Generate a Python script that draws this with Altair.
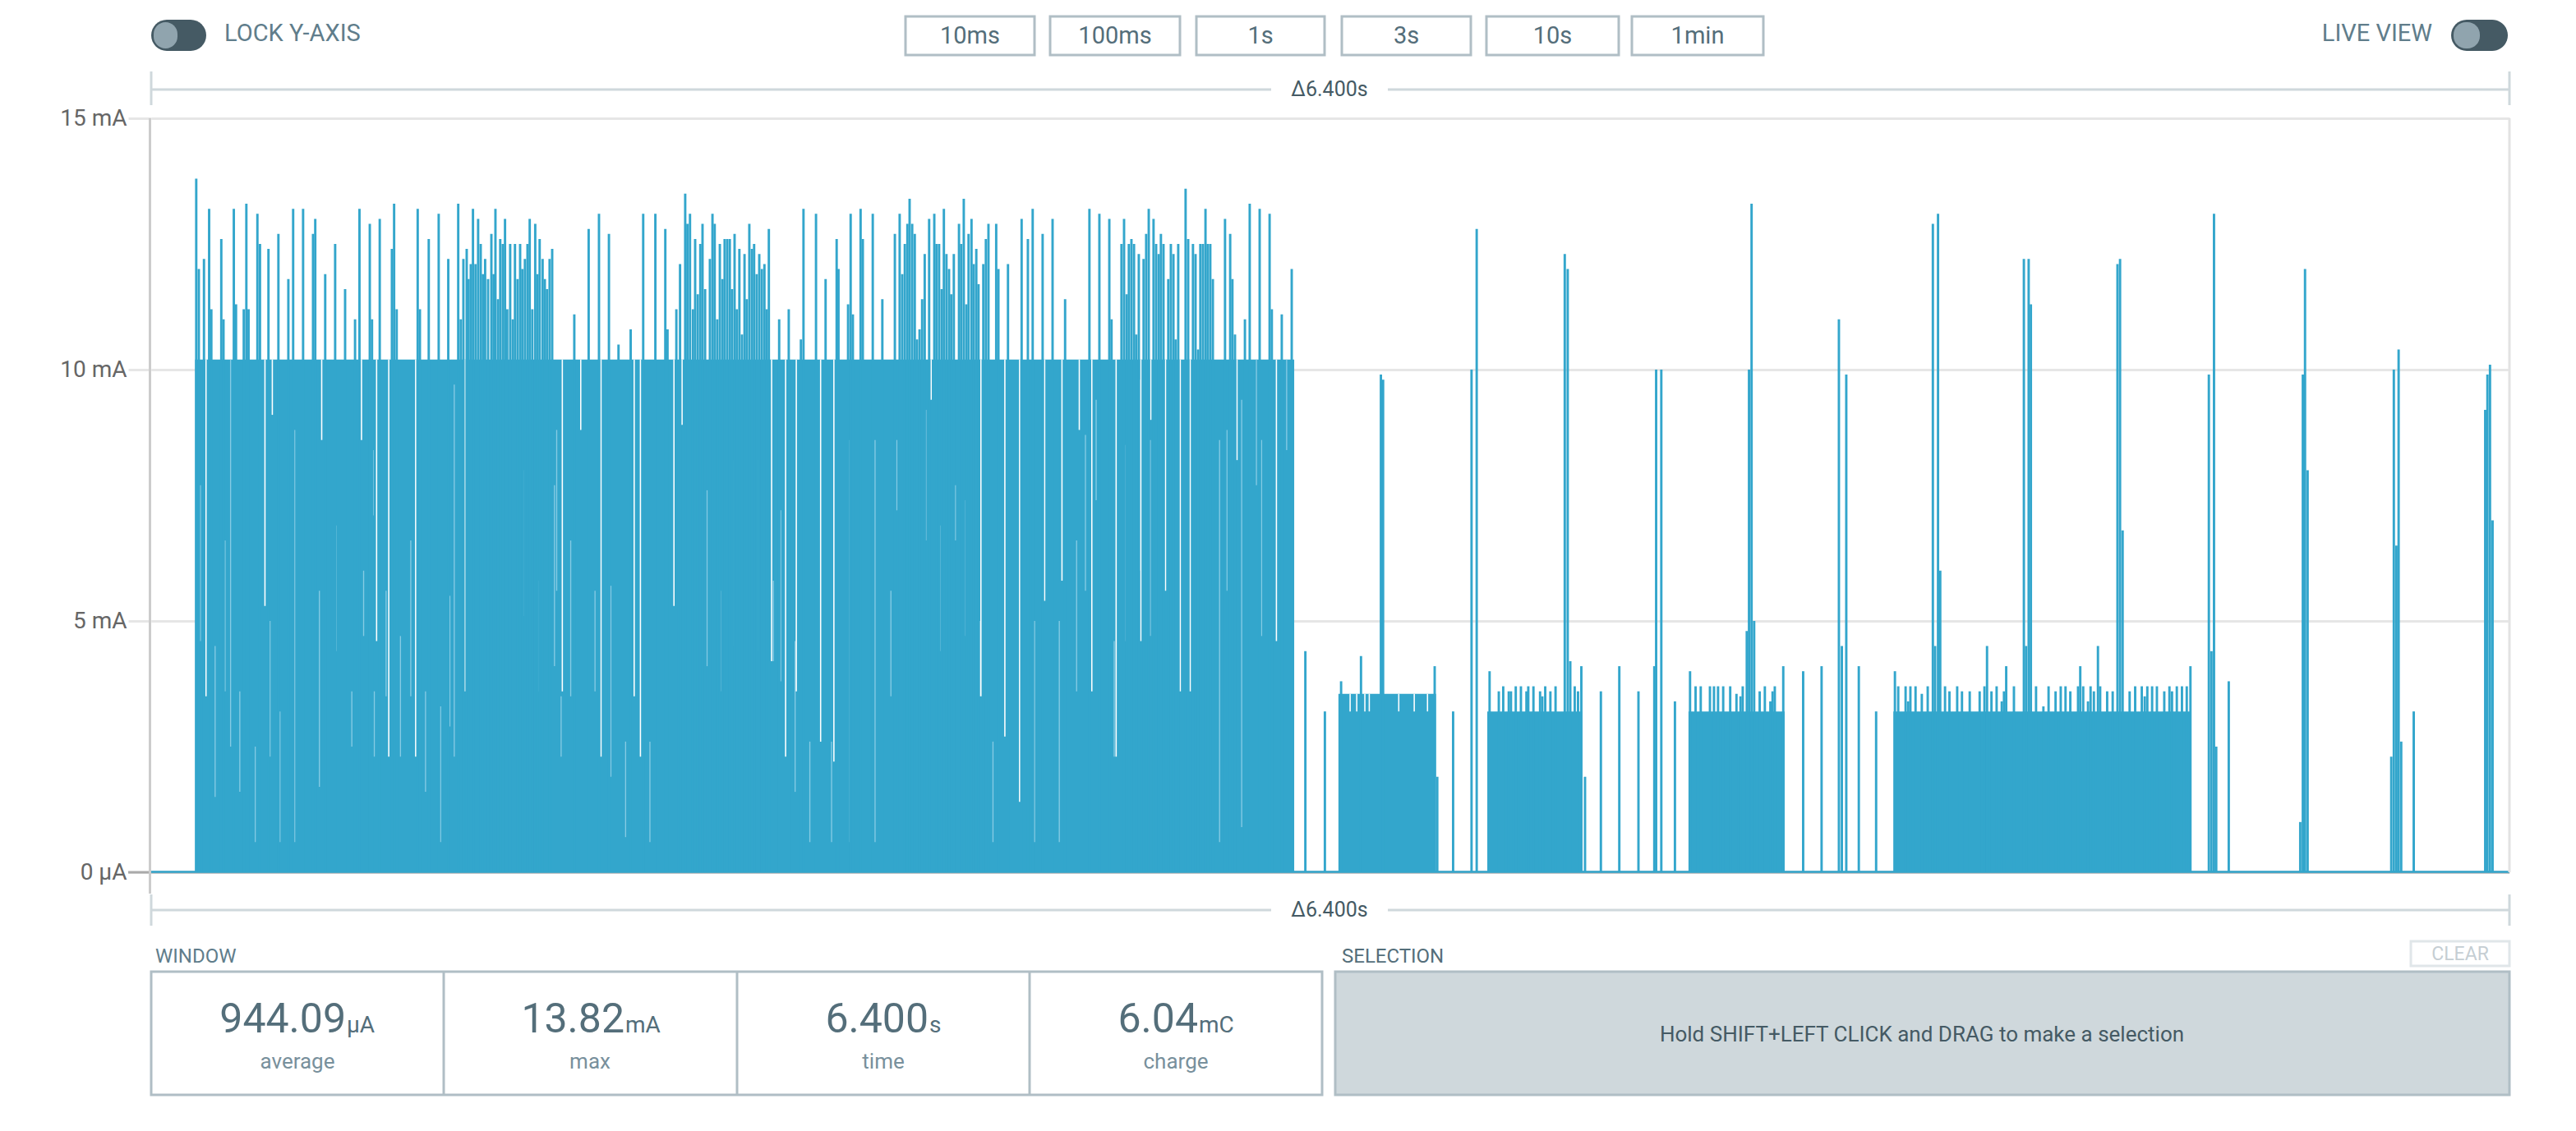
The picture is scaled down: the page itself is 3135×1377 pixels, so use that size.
import altair as alt
import pandas as pd

# ---------------- data (time in ms, current in mA) ----------------
# plateau / block segments: start, end, level
plateau_start = [119, 3222, 3626, 4172, 4728]
plateau_end = [3102, 3487, 3884, 4433, 5537]
plateau_level = [10.2, 3.55, 3.2, 3.2, 3.2]

# peaks in the dense burst (t, mA)
dense_peaks = [
    (119, 13.8), (126, 12.0), (140, 12.2), (154, 13.2), (160, 11.2), (187, 12.6), (193, 11.0),
    (221, 13.2), (227, 11.3), (248, 11.2), (255, 13.3), (261, 11.2), (285, 13.1), (292, 12.5),
    (315, 12.4), (342, 12.7), (369, 11.8), (382, 13.2), (409, 13.2), (436, 12.7), (442, 13.0),
    (469, 11.9), (496, 12.5), (523, 11.6), (550, 11.0), (562, 13.2), (590, 12.9), (596, 11.0),
    (617, 13.0), (650, 12.4), (656, 13.3), (663, 11.2), (720, 13.2), (726, 11.2), (750, 12.6),
    (777, 13.1), (803, 12.2), (830, 13.3), (837, 11.0), (844, 12.2), (853, 12.4), (858, 11.8),
    (864, 12.1), (870, 13.2), (877, 12.1), (884, 13.0), (891, 12.5), (897, 11.9), (903, 12.2),
    (911, 11.8), (920, 12.7), (926, 11.9), (931, 13.2), (938, 11.4), (944, 12.6), (951, 12.5),
    (957, 13.0), (963, 11.2), (971, 12.5), (978, 11.0), (984, 12.5), (991, 11.8), (998, 12.5),
    (1004, 12.0), (1011, 12.2), (1018, 12.5), (1024, 13.0), (1031, 11.2), (1039, 12.9),
    (1045, 11.9), (1051, 12.6), (1059, 12.2), (1065, 11.8), (1071, 11.6), (1078, 12.2),
    (1085, 12.4), (1145, 11.1),
    (1184, 12.8), (1212, 13.1), (1239, 12.7), (1265, 10.5), (1298, 10.8), (1332, 13.1),
    (1365, 13.1), (1392, 12.8), (1398, 10.8), (1422, 11.2), (1432, 12.1), (1446, 13.5),
    (1452, 12.9), (1459, 13.1), (1467, 11.2), (1473, 12.6), (1480, 11.5), (1487, 12.5),
    (1493, 12.9), (1500, 11.6), (1513, 12.2), (1520, 13.1), (1526, 12.9), (1533, 11.0),
    (1540, 12.5), (1547, 11.8), (1553, 12.6), (1560, 12.6), (1567, 12.6), (1573, 11.6),
    (1580, 12.7), (1586, 11.2), (1593, 12.4), (1600, 10.7), (1607, 12.3), (1613, 11.4),
    (1620, 12.9), (1627, 12.4), (1633, 12.5), (1640, 11.9), (1647, 12.3), (1654, 12.0),
    (1661, 12.1), (1667, 11.2), (1673, 12.8), (1701, 11.0), (1727, 11.2), (1760, 10.6),
    (1767, 13.2), (1801, 13.1), (1827, 11.8), (1857, 12.6), (1862, 12.0), (1888, 11.3),
    (1895, 13.1), (1901, 11.1), (1922, 13.2), (1928, 12.6), (1955, 13.1), (1981, 11.4),
    (2015, 12.7), (2028, 13.1), (2035, 11.9), (2042, 12.5), (2049, 12.9), (2055, 13.4),
    (2062, 12.9), (2069, 12.7), (2075, 10.6), (2082, 10.8), (2089, 11.4), (2096, 12.3),
    (2108, 13.0), (2122, 13.1), (2128, 12.5), (2135, 12.5), (2142, 11.6), (2148, 13.2),
    (2155, 12.3), (2162, 12.0), (2168, 11.5), (2175, 12.3), (2189, 12.9), (2195, 12.5),
    (2202, 13.4), (2209, 11.3), (2215, 12.7), (2223, 13.0), (2229, 12.1), (2236, 12.4),
    (2242, 11.7), (2255, 12.1), (2262, 12.6), (2269, 12.9), (2290, 12.9), (2296, 12.0),
    (2322, 12.1), (2359, 13.0), (2376, 12.6), (2389, 13.2), (2416, 12.7), (2443, 13.0),
    (2477, 11.4), (2543, 13.2), (2570, 13.1), (2597, 13.0), (2603, 11.0), (2630, 12.5),
    (2637, 13.0), (2644, 11.5), (2650, 12.5), (2657, 12.6), (2664, 12.5), (2670, 10.7),
    (2677, 12.3), (2690, 12.2), (2697, 12.7), (2704, 13.2), (2717, 13.0), (2724, 12.5),
    (2731, 12.3), (2737, 12.7), (2744, 12.5), (2757, 11.8), (2764, 12.5), (2771, 12.3),
    (2777, 10.6), (2784, 12.5), (2804, 13.6), (2811, 12.6), (2824, 12.5), (2831, 12.3),
    (2838, 10.4), (2844, 12.5), (2851, 12.5), (2858, 13.2), (2864, 12.5), (2871, 12.5),
    (2878, 11.8), (2911, 13.0), (2925, 12.7), (2931, 11.8), (2938, 10.7), (2965, 11.0),
    (2978, 13.3), (3005, 13.2), (3032, 13.1), (3038, 11.2), (3065, 11.1), (3092, 12.0),
]

# dips inside the dense burst (t, low mA) -> up to plateau level
dense_dips = [
    (147, 3.5), (307, 5.3), (327, 9.1), (461, 8.6), (569, 8.6), (610, 4.6), (643, 2.3),
    (716, 2.3), (850, 3.6), (1114, 3.6), (1164, 8.8), (1219, 2.3), (1309, 3.5), (1326, 2.3),
    (1417, 5.3), (1439, 8.9), (1682, 4.2), (1720, 2.3), (1749, 3.6), (1815, 2.6), (1851, 2.2),
    (2115, 9.4), (2250, 3.5), (2315, 2.7), (2355, 1.4), (2423, 5.4), (2470, 5.8), (2517, 8.8),
    (2551, 3.6), (2617, 2.3), (2684, 4.6), (2711, 9.0), (2751, 5.6), (2791, 3.6), (2818, 3.6),
    (2945, 8.2), (3052, 4.6),
]
# pale (min/max shaded) columns inside the dense burst (t, low mA, high mA)
dense_pale = [
    (132, 4.6, 7.7), (172, 1.5, 4.5), (199, 3.6, 6.6), (214, 2.5, 10.2), (239, 1.6, 3.6),
    (281, 0.6, 2.5), (321, 2.3, 5.0), (348, 0.6, 3.2), (388, 0.6, 8.8), (455, 1.7, 5.6),
    (500, 4.4, 6.9), (543, 2.5, 3.6), (575, 4.7, 6.0), (601, 7.1, 8.4), (604, 2.3, 3.6),
    (636, 3.5, 5.6), (675, 2.3, 4.7), (703, 3.5, 6.6), (743, 1.6, 3.6), (784, 0.6, 3.3),
    (809, 2.9, 5.5), (821, 2.3, 9.7), (959, 3.8, 8.5), (1008, 5.1, 8.0), (1049, 3.6, 5.8),
    (1093, 4.1, 7.7), (1099, 5.6, 8.8), (1111, 2.3, 3.5), (1137, 3.5, 6.6),
    (1203, 3.6, 5.6), (1246, 1.9, 5.7), (1286, 0.7, 2.6), (1352, 0.6, 2.6), (1462, 3.3, 8.6),
    (1507, 4.1, 7.6), (1545, 3.6, 5.6), (1576, 4.5, 8.2), (1616, 3.8, 5.6), (1643, 4.4, 8.2),
    (1687, 4.2, 5.8), (1707, 3.8, 7.2), (1746, 1.6, 4.6), (1786, 0.6, 2.6), (1845, 0.6, 2.6),
    (1894, 0.6, 8.6), (1963, 0.6, 8.6), (2006, 3.5, 5.6), (2022, 7.2, 8.6), (2101, 6.6, 9.2),
    (2140, 4.4, 6.9), (2181, 6.6, 7.7), (2208, 4.7, 7.4), (2247, 3.5, 5.0), (2283, 0.6, 2.6),
    (2396, 0.6, 5.0), (2463, 0.6, 5.0), (2510, 3.6, 6.6), (2534, 5.6, 8.7), (2563, 7.4, 9.4),
    (2612, 2.3, 4.6), (2641, 4.6, 8.5), (2683, 6.0, 9.8), (2710, 4.7, 8.6), (2898, 0.6, 8.6),
    (2918, 5.6, 8.8), (2958, 0.9, 9.4), (2998, 7.7, 10.2), (3012, 4.7, 8.6), (3080, 8.4, 10.2),
]
# notches in block A (t, low mA)
block_a_notches = [(3252, 3.2), (3270, 3.2), (3292, 3.2), (3304, 3.2), (3384, 3.2), (3426, 3.2), (3462, 3.2)]

block_a_peaks = [(3226, 3.8), (3280, 4.3), (3334, 9.9), (3340, 9.8), (3480, 4.1)]
block_b_peaks = [
    (3629, 4.0), (3654, 3.6), (3666, 3.7), (3681, 3.6), (3687, 3.6), (3700, 3.7), (3714, 3.7),
    (3729, 3.6), (3734, 3.7), (3748, 3.7), (3766, 3.6), (3772, 3.5), (3780, 3.7), (3794, 3.6),
    (3808, 3.7), (3833, 12.3), (3841, 12.0), (3848, 4.2), (3860, 3.7), (3869, 3.6), (3878, 4.1),
]
block_c_peaks = [
    (4173, 4.0), (4188, 3.7), (4202, 3.7), (4227, 3.7), (4238, 3.7), (4249, 3.7), (4263, 3.7),
    (4282, 3.7), (4299, 3.55), (4310, 3.5), (4316, 3.7), (4327, 4.8), (4333, 10.0), (4340, 13.3),
    (4347, 5.0), (4362, 3.6), (4376, 3.7), (4391, 3.4), (4397, 3.6), (4403, 3.7), (4426, 4.1),
]
block_d_peaks = [
    (4729, 4.0), (4738, 3.7), (4758, 3.7), (4765, 3.4), (4771, 3.7), (4785, 3.7), (4802, 3.55),
    (4818, 3.7), (4832, 12.9), (4838, 4.5), (4846, 13.1), (4852, 6.0), (4865, 3.7), (4877, 3.6),
    (4898, 3.7), (4911, 3.6), (4932, 3.6), (4959, 3.6), (4972, 3.7), (4979, 4.5), (4991, 3.6),
    (5005, 3.7), (5019, 3.4), (5025, 3.6), (5031, 4.1), (5052, 3.7), (5079, 12.2), (5085, 4.5),
    (5092, 12.2), (5098, 11.3), (5112, 3.7), (5132, 3.3), (5146, 3.7), (5165, 3.6), (5179, 3.7),
    (5192, 3.7), (5205, 3.6), (5226, 3.7), (5232, 4.1), (5240, 3.7), (5253, 3.4), (5260, 3.7),
    (5269, 3.6), (5280, 4.5), (5286, 3.7), (5305, 3.6), (5320, 3.6), (5333, 12.1), (5340, 12.2),
    (5347, 6.8), (5366, 3.6), (5381, 3.7), (5399, 3.7), (5407, 3.5), (5414, 3.7), (5427, 3.7),
    (5440, 3.7), (5460, 3.6), (5474, 3.7), (5481, 3.6), (5494, 3.7), (5508, 3.7), (5521, 3.7),
    (5531, 4.1),
]
sparse_peaks = [
    (3129, 4.4), (3182, 3.2), (3487, 1.9), (3530, 3.2), (3580, 10.0), (3594, 12.8), (3888, 1.9),
    (3931, 3.6), (3981, 4.1), (4033, 3.6), (4076, 4.1), (4081, 10.0), (4095, 10.0), (4132, 3.4),
    (4480, 4.0), (4530, 4.1), (4577, 11.0), (4585, 4.5), (4597, 9.9), (4631, 4.1), (4678, 3.2),
    (5581, 9.9), (5588, 4.4), (5595, 13.1), (5601, 2.5), (5635, 3.8), (5829, 1.0), (5836, 9.9),
    (5842, 12.0), (5849, 8.0), (6076, 2.3), (6083, 10.0), (6090, 6.5), (6096, 10.4), (6103, 2.6),
    (6137, 3.2), (6331, 9.2), (6337, 9.9), (6344, 10.1), (6351, 7.0),
]

y_ticks = [0, 5, 10, 15]
y_tick_labels = ["0 µA", "5 mA", "10 mA", "15 mA"]
buttons = ["10ms", "100ms", "1s", "3s", "10s", "1min"]
stat_values = ["944.09", "13.82", "6.400", "6.04"]
stat_units = ["µA", "mA", "s", "mC"]
stat_names = ["average", "max", "time", "charge"]
delta_label = "Δ6.400s"
window_ms = 6400

# ---------------- styling / layout ----------------
BLUE = "#33A6CC"
PALE = "#86CBE4"
FONT = "Roboto"
OX, OY = 184, 144          # page position of the plot origin
W, H = 2870, 918           # plot area
BAR_MS = 6.5
DIP_MS = 3.5
PALE_MS = 3.0

xs = alt.Scale(domain=[0, window_ms], nice=False, zero=False)
ys = alt.Scale(domain=[0, 15], nice=False)

label_expr = "".join(f"datum.value == {v} ? '{l}' : " for v, l in zip(y_ticks, y_tick_labels)) + "''"
yaxis = alt.Axis(values=y_ticks, labelExpr=label_expr, title=None, grid=True, gridColor="#E6E6E6",
                 gridWidth=3, domain=False, ticks=True, tickSize=28, tickColor="#E6E6E6", tickWidth=3,
                 labelFontSize=28, labelFont=FONT, labelColor="#666666", labelPadding=2, zindex=0)

ONE = pd.DataFrame({"k": [0]})


def rect(x1, y1, x2, y2, fill, stroke=None, sw=0, r=0):
    kw = dict(fill=fill, cornerRadius=r)
    if stroke:
        kw.update(stroke=stroke, strokeWidth=sw)
    else:
        kw.update(strokeWidth=0)
    return alt.Chart(ONE).mark_rect(**kw).encode(
        x=alt.value(x1 - OX), x2=alt.value(x2 - OX), y=alt.value(y1 - OY), y2=alt.value(y2 - OY))


def hline(x1, x2, y, color, w):
    return alt.Chart(ONE).mark_rule(color=color, strokeWidth=w).encode(
        x=alt.value(x1 - OX), x2=alt.value(x2 - OX), y=alt.value(y - OY))


def vline(x, y1, y2, color, w):
    return alt.Chart(ONE).mark_rule(color=color, strokeWidth=w).encode(
        x=alt.value(x - OX), y=alt.value(y1 - OY), y2=alt.value(y2 - OY))


def text(x, y, s, size, color, align="center", baseline="middle"):
    return alt.Chart(ONE).mark_text(text=s, font=FONT, fontSize=size, color=color, align=align,
                                    baseline=baseline).encode(x=alt.value(x - OX), y=alt.value(y - OY))


layers = []

# --- top controls ---
layers += [
    rect(184, 24, 251, 62, "#455A64", r=19),
    rect(187, 27, 216, 59, "#90A4AE", r=15),
    text(273, 41, "LOCK Y-AXIS", 29, "#607D8B", align="left"),
    rect(2983, 24, 3052, 62, "#455A64", r=19),
    rect(2986, 27, 3018, 59, "#90A4AE", r=15),
    text(2960, 41, "LIVE VIEW", 29, "#607D8B", align="right"),
]
button_x = [(1102, 1259), (1278, 1436), (1456, 1612), (1633, 1790), (1809, 1970), (1986, 2146)]
for (bx1, bx2), lab in zip(button_x, buttons):
    layers.append(rect(bx1, 20, bx2, 67, "white", "#B0BEC5", 3))
    layers.append(text((bx1 + bx2) / 2, 44, lab, 29, "#546E7A"))

# --- delta markers ---
DC = "#CFD8DC"
for yl, t1, t2 in [(109, 87, 128), (1108, 1089, 1127)]:
    layers += [
        hline(184, 1547, yl, DC, 3), hline(1689, 3054, yl, DC, 3),
        vline(184, t1, t2, DC, 3), vline(3054, t1, t2, DC, 3),
        text(1618, yl, delta_label, 25, "#455A64"),
    ]

# --- bottom panels ---
layers += [
    text(189, 1165, "WINDOW", 24, "#607D8B", align="left"),
    rect(184, 1183, 1609, 1333, "white", "#B0BEC5", 3),
    vline(540, 1183, 1333, "#B0BEC5", 3), vline(897, 1183, 1333, "#B0BEC5", 3),
    vline(1253, 1183, 1333, "#B0BEC5", 3),
    text(1633, 1165, "SELECTION", 24, "#546E7A", align="left"),
    rect(2934, 1146, 3054, 1176, "white", "#E0E6E9", 3),
    text(2994, 1162, "CLEAR", 23, "#C5CED3"),
    rect(1625, 1183, 3054, 1333, "#CFD8DC", "#B0BEC5", 3),
    text(2339, 1260, "Hold SHIFT+LEFT CLICK and DRAG to make a selection", 26, "#455A64"),
]
num_end = [421, 760, 1130, 1458]
cell_mid = [362, 718, 1075, 1431]
for ne, cm, v, u, n in zip(num_end, cell_mid, stat_values, stat_units, stat_names):
    layers.append(text(ne, 1257, v, 50, "#546E7A", align="right", baseline="alphabetic"))
    layers.append(text(ne + 1, 1257, u, 28, "#546E7A", align="left", baseline="alphabetic"))
    layers.append(text(cm, 1293, n, 26, "#78909C"))

# --- plot: zero line and baseline ---
layers.append(alt.Chart(ONE).mark_rule(color="#AAAAAA", strokeWidth=3).encode(
    x=alt.value(-28), x2=alt.value(W), y=alt.value(H)))
layers.append(alt.Chart(ONE).mark_rule(color=BLUE, strokeWidth=2.5).encode(
    x=alt.value(0), x2=alt.value(W), y=alt.value(H - 0.5)))

# plateau blocks
plat_df = pd.DataFrame({"t0": plateau_start, "t1": plateau_end, "lvl": plateau_level})
layers.append(alt.Chart(plat_df).mark_rect(color=BLUE, strokeWidth=0).encode(
    x=alt.X("t0:Q", scale=xs, axis=None), x2="t1:Q",
    y=alt.Y("lvl:Q", scale=ys, axis=yaxis), y2=alt.datum(0)))

# pale shaded columns
pale_df = pd.DataFrame(dense_pale, columns=["t", "lo", "hi"])
layers.append(alt.Chart(pale_df).transform_calculate(t2=f"datum.t + {PALE_MS}").mark_rect(
    color=PALE, strokeWidth=0).encode(
    x=alt.X("t:Q", scale=xs, axis=None), x2="t2:Q",
    y=alt.Y("hi:Q", scale=ys, axis=yaxis), y2="lo:Q"))

# dips (white gaps)
dip_rows = [(t, lo, plateau_level[0]) for t, lo in dense_dips] + \
           [(t, lo, plateau_level[1]) for t, lo in block_a_notches]
dip_df = pd.DataFrame(dip_rows, columns=["t", "lo", "hi"])
layers.append(alt.Chart(dip_df).transform_calculate(t2=f"datum.t + {DIP_MS}").mark_rect(
    color="white", strokeWidth=0).encode(
    x=alt.X("t:Q", scale=xs, axis=None), x2="t2:Q",
    y=alt.Y("hi:Q", scale=ys, axis=yaxis), y2="lo:Q"))

# peaks / columns
peak_rows = dense_peaks + block_a_peaks + block_b_peaks + block_c_peaks + block_d_peaks + sparse_peaks
peak_df = pd.DataFrame(peak_rows, columns=["t", "ma"])
layers.append(alt.Chart(peak_df).transform_calculate(t2=f"datum.t + {BAR_MS}").mark_rect(
    color=BLUE, strokeWidth=0).encode(
    x=alt.X("t:Q", scale=xs, axis=None), x2="t2:Q",
    y=alt.Y("ma:Q", scale=ys, axis=yaxis), y2=alt.datum(0)))

# frame lines
layers.append(alt.Chart(ONE).mark_rule(color="#CCCCCC", strokeWidth=3).encode(
    x=alt.value(-1.5), y=alt.value(0), y2=alt.value(944)))
layers.append(alt.Chart(ONE).mark_rule(color="#E3E3E3", strokeWidth=3).encode(
    x=alt.value(W), y=alt.value(0), y2=alt.value(H)))

chart = alt.layer(*layers).properties(
    width=W, height=H,
    autosize=alt.AutoSizeParams(type="none"),
    padding={"left": OX - 8, "top": OY - 8, "right": 71, "bottom": 292},
    background="white",
).configure_view(strokeWidth=0)

chart.save("out.html", embed_options={"renderer": "svg", "actions": False})
